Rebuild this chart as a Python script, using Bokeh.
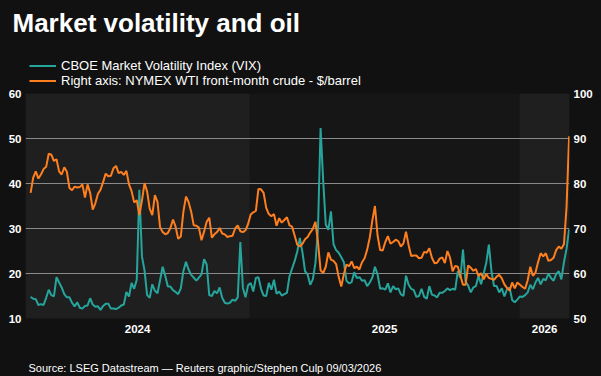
import pandas as pd
from bokeh.plotting import figure
from bokeh.layouts import column
from bokeh.models import (Range1d, LinearAxis, FixedTicker, BoxAnnotation, Label, Title,
                          ColumnDataSource, Legend, LegendItem)
from bokeh.embed import file_html
from bokeh.resources import INLINE

# ---------------- data ----------------
dates = pd.date_range("2024-03-11", "2026-03-09", freq="84h")

vix = [
    14.8, 14.4, 14.3, 13.0, 13.2, 13.0, 14.6, 16.4, 15.2, 14.9,
    19.2, 18.0, 16.9, 15.4, 14.7, 14.7, 13.5, 12.7, 13.6, 12.4,
    12.2, 12.8, 12.9, 14.5, 13.1, 12.6, 12.7, 11.9, 12.8, 13.3,
    13.3, 12.2, 12.2, 12.1, 12.4, 12.9, 13.1, 15.9, 14.9, 17.9,
    16.6, 18.6, 38.6, 23.8, 20.7, 15.2, 14.6, 17.6, 16.2, 15.6,
    18.5, 21.5, 19.5, 17.1, 17.1, 16.3, 15.9, 15.4, 16.7, 20.5,
    22.6, 20.9, 19.7, 19.1, 18.4, 19.1, 19.8, 23.2, 22.0, 15.2,
    15.0, 16.1, 15.6, 16.9, 14.6, 13.5, 13.3, 13.5, 14.2, 13.9,
    14.7, 27.0, 16.8, 14.7, 17.4, 17.9, 16.0, 19.0, 19.2, 16.6,
    15.1, 15.0, 17.9, 16.4, 18.6, 15.5, 16.0, 15.1, 15.4, 15.7,
    19.4, 21.1, 22.8, 24.9, 27.9, 24.7, 20.5, 19.8, 17.5, 18.7,
    22.3, 30.0, 52.3, 40.7, 30.9, 29.7, 33.8, 26.5, 25.2, 24.6,
    23.6, 22.5, 18.4, 17.8, 18.1, 20.3, 19.0, 19.2, 18.4, 18.5,
    17.2, 18.0, 19.1, 21.5, 19.8, 16.6, 16.7, 16.4, 17.8, 15.8,
    17.2, 16.5, 16.7, 15.4, 15.0, 19.5, 17.5, 16.6, 16.3, 14.8,
    15.0, 16.6, 14.8, 14.4, 17.2, 15.3, 15.1, 14.7, 15.7, 15.7,
    16.1, 16.7, 16.3, 16.6, 16.4, 20.5, 19.0, 25.3, 18.2, 17.3,
    15.8, 16.9, 17.2, 19.5, 17.6, 20.0, 22.4, 26.4, 20.5, 17.2,
    17.2, 15.8, 16.7, 14.9, 16.5, 16.9, 14.1, 13.6, 14.2, 14.9,
    14.8, 15.2, 15.8, 17.5, 16.5, 18.0, 19.0, 17.6, 18.8, 18.5,
    20.0, 19.0, 18.4, 19.9, 20.5, 18.7, 22.5, 25.5, 29.8,
]

wti = [
    77.9, 81.3, 82.7, 81.1, 82.0, 83.2, 83.7, 86.6, 86.4, 85.0,
    85.4, 82.7, 82.0, 83.6, 82.6, 79.0, 78.5, 79.3, 79.1, 79.2,
    79.8, 76.9, 79.8, 77.9, 74.2, 75.6, 77.7, 78.6, 80.3, 82.2,
    81.6, 81.7, 83.4, 83.9, 82.3, 82.6, 81.9, 82.8, 79.8, 78.3,
    75.8, 76.3, 73.0, 76.2, 80.1, 78.2, 74.4, 73.0, 77.4, 75.9,
    70.3, 69.2, 68.7, 69.0, 70.1, 72.0, 70.4, 67.7, 68.2, 73.7,
    77.1, 75.9, 73.8, 70.7, 70.6, 70.2, 67.4, 69.3, 71.5, 72.4,
    68.0, 68.7, 69.2, 70.1, 68.9, 68.7, 68.1, 68.3, 68.4, 70.0,
    70.7, 69.4, 69.2, 69.6, 71.0, 73.1, 73.6, 73.9, 78.8, 78.7,
    77.9, 74.6, 73.2, 72.7, 73.2, 70.6, 72.3, 71.3, 71.9, 72.5,
    70.7, 70.4, 68.4, 66.4, 66.0, 66.6, 67.6, 68.1, 69.1, 69.9,
    71.5, 67.0, 60.7, 60.1, 61.5, 64.7, 63.1, 62.8, 62.1, 59.2,
    57.1, 59.9, 62.0, 61.6, 62.7, 61.2, 61.5, 60.9, 62.5, 63.4,
    65.3, 68.0, 71.8, 75.0, 68.5, 65.2, 65.1, 67.0, 68.3, 66.6,
    67.0, 67.5, 67.2, 66.0, 66.7, 69.3, 66.3, 63.9, 64.0, 64.0,
    63.4, 63.5, 64.8, 64.6, 65.6, 63.5, 62.3, 62.4, 63.3, 63.6,
    62.3, 65.0, 63.5, 60.5, 61.7, 61.5, 59.5, 57.5, 57.5, 61.8,
    61.3, 60.6, 61.0, 59.4, 60.1, 58.7, 59.9, 59.0, 58.8, 58.6,
    59.3, 59.7, 58.9, 57.6, 56.8, 56.2, 58.0, 56.7, 58.0, 57.5,
    57.0, 56.6, 58.5, 61.5, 59.5, 60.2, 62.5, 64.5, 63.8, 64.5,
    62.8, 63.0, 63.5, 65.2, 66.0, 65.5, 66.5, 74.7, 90.5,
]

vix_ticks = [10, 20, 30, 40, 50, 60]
wti_ticks = [50, 60, 70, 80, 90, 100]
year_labels = ["2024", "2025", "2026"]
year_starts = ["2025-01-01", "2026-01-01"]

title_text = "Market volatility and oil"
vix_label = "CBOE Market Volatility Index (VIX)"
wti_label = "Right axis: NYMEX WTI front-month crude - $/barrel"
source_text = "Source: LSEG Datastream \u2014 Reuters graphic/Stephen Culp  09/03/2026"

# ---------------- styling ----------------
BG = "#111111"
BAND_DARK = "#161616"
BAND_LIGHT = "#1f1f1f"
TEAL = "#26a59c"
ORANGE = "#ff7f1e"
GRID = "#8a8a8a"
SANS = "'Liberation Sans', Arial, sans-serif"
W = 601
HEAD_H = 88
FOOT_H = 36
MAIN_H = 376 - HEAD_H - FOOT_H


def ms(ts):
    return pd.Timestamp(ts).value / 1e6


def blank_figure(height):
    f = figure(width=W, height=height, output_backend="svg", toolbar_location=None,
               title=None, x_axis_type=None, y_axis_type=None,
               x_range=Range1d(0, 1), y_range=Range1d(0, 1),
               min_border=0, min_border_left=0, min_border_right=0,
               min_border_top=0, min_border_bottom=0)
    f.background_fill_color = BG
    f.border_fill_color = BG
    f.outline_line_color = None
    f.styles = {"background-color": BG}
    return f


x_start = ms("2024-03-04 02:00")
x_end = ms("2026-03-09 12:00")
y1 = ms(year_starts[0])
y2 = ms(year_starts[1])

src = ColumnDataSource(dict(date=dates, vix=vix, wti=wti))

# ---------------- main chart ----------------
p = figure(width=W, height=MAIN_H, output_backend="svg", toolbar_location=None, title=None,
           x_axis_type="datetime", x_range=Range1d(x_start, x_end),
           y_range=Range1d(10, 60),
           min_border_left=25, min_border_right=32, min_border_top=5, min_border_bottom=22)
p.background_fill_color = BAND_DARK
p.border_fill_color = BG
p.outline_line_color = None
p.styles = {"background-color": BG}

p.add_layout(BoxAnnotation(left=x_start, right=y1, fill_color=BAND_LIGHT, fill_alpha=1,
                           line_alpha=0, level="image"))
p.add_layout(BoxAnnotation(left=y2, right=x_end, fill_color=BAND_LIGHT, fill_alpha=1,
                           line_alpha=0, level="image"))

p.extra_y_ranges = {"oil": Range1d(50, 100)}
p.line("date", "vix", source=src, color=TEAL, line_width=2)
p.line("date", "wti", source=src, y_range_name="oil", color=ORANGE, line_width=2)

tick_pos = [(x_start + y1) / 2, (y1 + y2) / 2, (y2 + x_end) / 2]
xa = p.xaxis[0]
xa.ticker = FixedTicker(ticks=tick_pos)
xa.major_label_overrides = {t: lab for t, lab in zip(tick_pos, year_labels)}
xa.major_label_standoff = 6

ya = p.yaxis[0]
ya.ticker = FixedTicker(ticks=vix_ticks)
ya.major_label_standoff = 4

ra = LinearAxis(y_range_name="oil", ticker=FixedTicker(ticks=wti_ticks))
ra.major_label_standoff = 4
p.add_layout(ra, "right")

for ax in [xa, ya, ra]:
    ax.axis_line_color = None
    ax.major_tick_line_color = None
    ax.minor_tick_line_color = None
    ax.major_tick_out = 0
    ax.major_tick_in = 0
    ax.major_label_text_color = "white"
    ax.major_label_text_font = SANS
    ax.major_label_text_font_style = "bold"
    ax.major_label_text_font_size = "11.5px"

p.xgrid.visible = False
p.ygrid.ticker = FixedTicker(ticks=vix_ticks)
p.ygrid.grid_line_color = GRID
p.ygrid.grid_line_width = 1

# ---------------- header: title + legend ----------------
head = blank_figure(HEAD_H)
head.add_layout(Title(text=title_text, align="left", offset=-13, standoff=14,
                      vertical_align="top", text_color="white", text_font=SANS,
                      text_font_style="bold", text_font_size="26px"), "above")
# legend keys: same series, drawn outside this strip's (empty) view
key_vix = head.line("date", "vix", source=src, color=TEAL, line_width=2)
key_wti = head.line("date", "wti", source=src, color=ORANGE, line_width=2)
legend = Legend(items=[LegendItem(label=vix_label, renderers=[key_vix]),
                       LegendItem(label=wti_label, renderers=[key_wti])],
                location=(4, 0), orientation="vertical",
                padding=0, margin=0, spacing=0,
                label_height=13, glyph_height=13, glyph_width=27, label_standoff=5,
                background_fill_alpha=0, border_line_alpha=0,
                label_text_color="white", label_text_font=SANS, label_text_font_size="13px")
head.add_layout(legend)

# ---------------- footer: source ----------------
foot = blank_figure(FOOT_H)
foot.add_layout(Label(x=3, y=9, x_units="screen", y_units="screen",
                      text=source_text, text_color="white", text_font=SANS,
                      text_font_size="11px", text_baseline="alphabetic"))

layout = column(head, p, foot, spacing=0)
layout.styles = {"background-color": BG}
open("out.html", "w").write(file_html(layout, INLINE))
